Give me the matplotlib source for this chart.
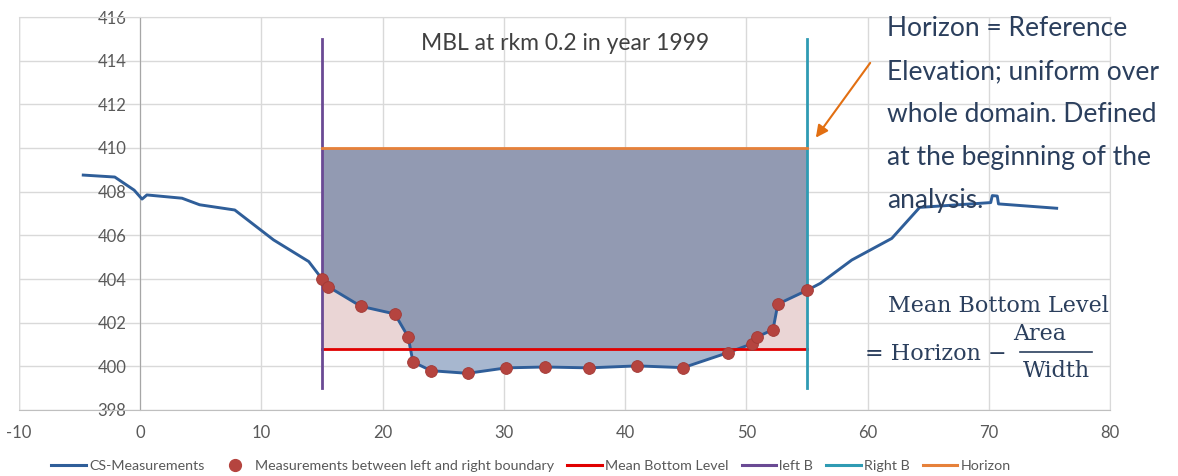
import numpy as np
import matplotlib
matplotlib.use("Agg")
import matplotlib.pyplot as plt
from matplotlib.lines import Line2D

# ---------------- data ----------------
cs_x = [-4.7, -2.1, -0.5, 0.15, 0.55, 3.45, 4.9, 7.8, 11.0, 13.9,
        15.0, 15.5, 18.2, 21.0, 22.1, 22.5, 24.0, 27.0, 30.2, 33.4, 37.0,
        41.0, 44.8, 48.5, 50.5, 50.9, 52.2, 52.6, 55.0,
        56.1, 58.7, 62.0, 64.3, 70.16, 70.29, 70.7, 70.8, 75.6]
cs_y = [408.76, 408.67, 408.07, 407.66, 407.85, 407.7, 407.4, 407.16, 405.79, 404.8,
        404.0, 403.65, 402.75, 402.4, 401.35, 400.2, 399.8, 399.68, 399.93, 399.97, 399.93,
        400.02, 399.94, 400.63, 401.04, 401.35, 401.68, 402.85, 403.48,
        403.8, 404.87, 405.86, 407.28, 407.5, 407.82, 407.8, 407.44, 407.24]

meas_x = [15.0, 15.5, 18.2, 21.0, 22.1, 22.5, 24.0, 27.0, 30.2, 33.4, 37.0,
          41.0, 44.8, 48.5, 50.5, 50.9, 52.2, 52.6, 55.0]
meas_y = [404.0, 403.65, 402.75, 402.4, 401.35, 400.2, 399.8, 399.68, 399.93, 399.97, 399.93,
          400.02, 399.94, 400.63, 401.04, 401.35, 401.68, 402.85, 403.48]

left_b = 15.0
right_b = 55.0
b_ylow, b_yhigh = 399.0, 415.0
horizon = 410.0
mbl = 400.8

title = "MBL at rkm 0.2 in year 1999"
note = "Horizon = Reference\nElevation; uniform over\nwhole domain. Defined\nat the beginning of the\nanalysis."
xticks = [-10, 0, 10, 20, 30, 40, 50, 60, 70, 80]
yticks = [398, 400, 402, 404, 406, 408, 410, 412, 414, 416]

# ---------------- style ----------------
plt.rcParams['font.family'] = ['Lato', 'DejaVu Sans']
plt.rcParams['axes.unicode_minus'] = False
c_cs = '#2f5e99'
c_meas = '#b5443f'
c_mbl = '#e00000'
c_left = '#6a4a94'
c_right = '#2f9bb3'
c_hor = '#e6813a'
c_txt = '#2b3f5d'
grid_c = '#d9d9d9'
tick_c = '#595959'
serif = ['DejaVu Serif']

W, H = 1178, 476
fig = plt.figure(figsize=(W / 100, H / 100), dpi=100)
ax = fig.add_axes([19 / W, 1 - 410 / H, (1110 - 19) / W, (410 - 17) / H])
ax.set_xlim(-10, 80)
ax.set_ylim(398, 416)
ax.set_xticks(xticks)
ax.set_yticks(yticks)
ax.grid(True, color=grid_c, lw=1.0, zorder=0)
ax.set_axisbelow(True)
ax.axvline(-10, color=grid_c, lw=1.0, zorder=0)
for s in ['top', 'right']:
    ax.spines[s].set_color(grid_c)
ax.spines['bottom'].set_color('#bfbfbf')
ax.spines['left'].set_position(('data', 0))
ax.spines['left'].set_color('#a6a6a6')
ax.tick_params(axis='both', length=0, labelsize=12, colors=tick_c)
ax.tick_params(axis='x', pad=11)
ax.tick_params(axis='y', pad=10)

mx = np.array(meas_x)
my = np.array(meas_y)

# fills
ax.fill_between(mx, my, horizon, color='#929ab2', lw=0, zorder=1)
ax.fill_between(mx, mbl, my, where=my >= mbl, interpolate=True, color='#ead5d5', lw=0, zorder=1.2)
ax.fill_between(mx, my, mbl, where=my < mbl, interpolate=True, color='#a7b7cf', lw=0, zorder=1.2)

# lines
ax.plot(cs_x, cs_y, color=c_cs, lw=2.1, zorder=3, solid_joinstyle='round')
ax.plot([left_b, right_b], [mbl, mbl], color=c_mbl, lw=2.0, zorder=3.5)
ax.plot([left_b, left_b], [b_ylow, b_yhigh], color=c_left, lw=2.0, zorder=3.5)
ax.plot([right_b, right_b], [b_ylow, b_yhigh], color=c_right, lw=2.0, zorder=3.5)
ax.plot([left_b, right_b], [horizon, horizon], color=c_hor, lw=2.0, zorder=3.5)
ax.plot(meas_x, meas_y, 'o', color=c_meas, ms=8.5, mec='#a23a36', mew=0.6, zorder=4)

# title inside plot
ax.text(35.05, 414.8, title, ha='center', va='center', fontsize=16.5, color='#404040')

# annotation text
ax.text(61.6, 416.05, note, ha='left', va='top', fontsize=19, color=c_txt,
        linespacing=1.9, zorder=6, clip_on=False)
ax.annotate('', xy=(55.6, 410.37), xytext=(60.35, 414.0),
            arrowprops=dict(arrowstyle='-|>', color='#e26f12', lw=1.5, mutation_scale=18))

# formula
ax.text(70.76, 402.5, 'Mean Bottom Level', ha='center', va='baseline', fontsize=16,
        color=c_txt, family=serif)
ax.text(59.8, 400.29, '= Horizon −', ha='left', va='baseline', fontsize=16,
        color=c_txt, family=serif)
ax.text(74.2, 401.2, 'Area', ha='center', va='baseline', fontsize=16,
        color=c_txt, family=serif)
ax.text(75.55, 399.52, 'Width', ha='center', va='baseline', fontsize=16,
        color=c_txt, family=serif)
ax.plot([72.6, 78.5], [400.67, 400.67], color=c_txt, lw=1.2, clip_on=False, zorder=5)

# legend
handles = [
    Line2D([], [], color=c_cs, lw=2.2),
    Line2D([], [], ls='none', marker='o', color=c_meas, ms=8.5),
    Line2D([], [], color=c_mbl, lw=2.2),
    Line2D([], [], color=c_left, lw=2.2),
    Line2D([], [], color=c_right, lw=2.2),
    Line2D([], [], color=c_hor, lw=2.2),
]
labels = ['CS-Measurements', 'Measurements between left and right boundary',
          'Mean Bottom Level', 'left B', 'Right B', 'Horizon']
leg = fig.legend(handles, labels, loc='center', bbox_to_anchor=(531 / W, 1 - 466 / H),
                 ncol=6, frameon=False, fontsize=10.3, handlelength=2.4,
                 handletextpad=0.25, columnspacing=0.9, borderpad=0)
for t in leg.get_texts():
    t.set_color(tick_c)

fig.savefig('out.png', dpi=100)
